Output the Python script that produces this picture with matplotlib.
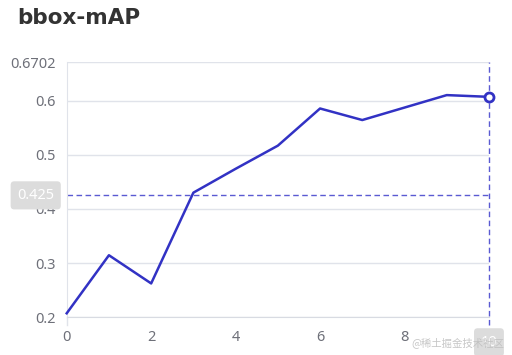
import matplotlib.pyplot as plt

# data
epochs = [0, 1, 2, 3, 4, 5, 6, 7, 8, 9, 10]
bbox_map = [0.2074, 0.3145, 0.2625, 0.4300, 0.4740, 0.5167, 0.5853, 0.5640, 0.5870, 0.6100, 0.6068]
y_ticks = [0.2, 0.3, 0.4, 0.5, 0.6, 0.6702]
y_labels = ["0.2", "0.3", "0.4", "0.5", "0.6", "0.6702"]
x_ticks = [0, 2, 4, 6, 8]
pointer_y = 0.425
pointer_x = 10

line_color = "#3232c4"
grid_color = "#e0e3ea"
text_color = "#6e7079"

plt.rcParams["font.family"] = ["Noto Sans", "DejaVu Sans"]

fig = plt.figure(figsize=(5.12, 3.55), dpi=100)
ax = fig.add_axes([0.1303, 0.1062, 0.955 - 0.1303, 0.824 - 0.1062])

ax.plot(epochs, bbox_map, color=line_color, lw=1.8, zorder=3, clip_on=False)
ax.plot(epochs[-1], bbox_map[-1], "o", ms=6.5, mfc="white", mec=line_color,
        mew=2, zorder=4, clip_on=False)

ax.set_xlim(0, 10)
ax.set_ylim(0.2, 0.6702)
ax.set_yticks(y_ticks)
ax.set_yticklabels(y_labels)
ax.set_xticks(x_ticks)
ax.grid(axis="y", color=grid_color, lw=1)
ax.set_axisbelow(True)

for s in ["top", "right"]:
    ax.spines[s].set_visible(False)
ax.spines["left"].set_color(grid_color)
ax.spines["bottom"].set_color("#d8dbe2")
ax.tick_params(axis="y", length=0, pad=8, labelsize=10.5, labelcolor=text_color)
ax.tick_params(axis="x", length=0, pad=9, labelsize=10.5, labelcolor=text_color)
ax.plot([0, 0], [0.2, 0.185], color=grid_color, lw=1, clip_on=False)

# axis pointer crosshair
ax.axhline(pointer_y, color="#5a5ad2", lw=1, ls=(0, (4, 2.5)), zorder=2)
ax.plot([pointer_x, pointer_x], [0.185, 0.6702], color="#5a5ad2", lw=1,
        ls=(0, (4, 2.5)), zorder=2, clip_on=False)

box = dict(boxstyle="round,pad=0.45,rounding_size=0.25", fc="#dcdcdc", ec="none")
ax.annotate(f"{pointer_y}", xy=(0, pointer_y), xytext=(-9, 0),
            textcoords="offset points", ha="right", va="center",
            fontsize=10.5, color="white", bbox=box, zorder=6, annotation_clip=False)
ax.annotate(f"{pointer_x}", xy=(pointer_x, 0.2), xytext=(0, -18),
            textcoords="offset points", ha="center", va="center",
            fontsize=10.5, color="white", bbox=box, zorder=6, annotation_clip=False)

fig.text(0.033, 0.95, "bbox-mAP", fontsize=15.5, fontweight="bold",
         color="#333333", va="center", ha="left", family="DejaVu Sans")
fig.text(0.985, 0.035, "@稀土掘金技术社区", fontsize=7.5, color="#c0c0c0",
         ha="right", va="center", alpha=0.9, zorder=10,
         family=["Noto Sans CJK SC", "DejaVu Sans"])

fig.savefig("out.png", dpi=100)
